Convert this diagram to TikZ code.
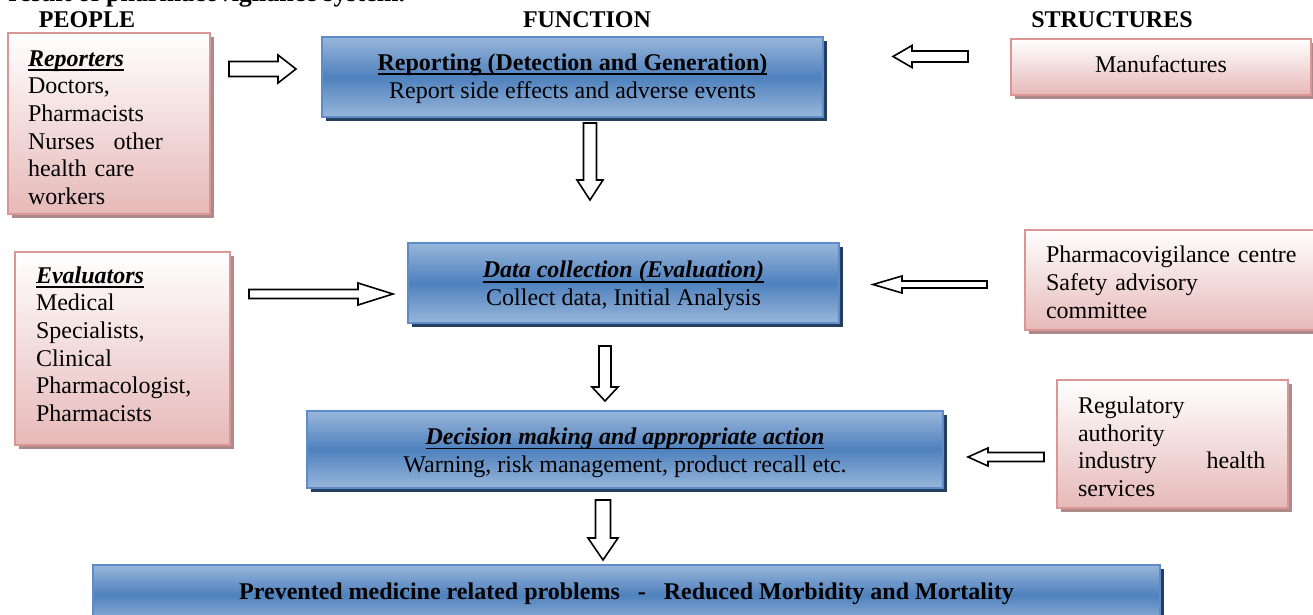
\documentclass[tikz,border=0pt]{standalone}
\usepackage{fontspec}
\setmainfont{Liberation Serif}
\usetikzlibrary{shadows}

\newcommand{\undl}[1]{\setbox0\hbox{#1}\rlap{\vrule height -1.4pt depth 2.3pt width \wd0}\box0}

\definecolor{pinkline}{RGB}{217,150,148}
\definecolor{pinkfill}{RGB}{230,185,184}
\definecolor{pinkshade}{RGB}{172,138,138}
\definecolor{blueline}{RGB}{95,140,200}
\definecolor{bluemid}{RGB}{79,129,189}
\definecolor{bluelight}{RGB}{152,182,219}
\definecolor{blueshade}{RGB}{36,63,96}

\tikzset{
  pinkbox/.style={draw=pinkline, line width=1pt, top color=white, bottom color=pinkfill,
    general shadow={fill=pinkshade, shadow xshift=2pt, shadow yshift=-2pt},
    align=left, inner ysep=0pt},
  bluebox/.style={draw=blueline, line width=1pt, top color=bluelight, bottom color=bluelight,
    middle color=bluemid,
    general shadow={fill=blueshade, shadow xshift=2pt, shadow yshift=-2pt},
    align=center, inner sep=0pt},
  heading/.style={font=\fontsize{12}{13.8}\selectfont\bfseries, anchor=base, inner sep=0pt},
  arrowline/.style={draw=black, fill=white, line width=0.8pt, line join=miter},
  pics/hollow arrow/.style args={#1/#2/#3/#4}{code={
    \path[arrowline] (0,-#2) -- ({#1-#4},-#2) -- ({#1-#4},-#3) -- (#1,0)
      -- ({#1-#4},#3) -- ({#1-#4},#2) -- (0,#2) -- cycle;
  }},
}

\begin{document}
\begin{tikzpicture}[x=0.5pt, y=-0.5pt, font=\fontsize{12}{13.8}\selectfont]
\useasboundingbox (0,0) rectangle (1313,615);

% Headings
\node[heading, font=\fontsize{13}{15}\selectfont\bfseries, anchor=base west] (title) at (8,2)
  {result of pharmacovigilance system.};
\node[heading] (people) at (87,28) {PEOPLE};
\node[heading] (function) at (587,28) {FUNCTION};
\node[heading] (structures) at (1112,28) {STRUCTURES};

% People
\node[pinkbox, text width=81pt, inner xsep=10pt, minimum height=90.5pt] (reporters) at (109,123.5)
  {\rule{0pt}{12pt}\textbf{\textit{\undl{Reporters}}}\\Doctors,\\Pharmacists\\Nurses\hspace{9.5pt}other\\health care\\workers};
\node[pinkbox, text width=86.5pt, inner xsep=10.5pt, minimum height=96.5pt] (evaluators) at (122.5,348.5)
  {\textbf{\textit{\undl{Evaluators}}}\\Medical\\Specialists,\\Clinical\\Pharmacologist,\\Pharmacists\rule[-4.6pt]{0pt}{0pt}};

% Function
\node[bluebox, minimum width=250.5pt, minimum height=40pt] (reporting) at (572.5,77)
  {\rule{0pt}{9.8pt}\textbf{\undl{Reporting (Detection and Generation)}}\\Report side effects and adverse events};
\node[bluebox, minimum width=215.5pt, minimum height=40pt] (datacoll) at (623.5,283)
  {\rule{0pt}{11.3pt}\textbf{\textit{\undl{Data collection (Evaluation)}}}\\Collect data, Initial Analysis};
\node[bluebox, minimum width=318pt, minimum height=38.5pt] (decision) at (625,449.5)
  {\rule{0pt}{11.7pt}\textbf{\textit{\undl{Decision making and appropriate action}}}\\Warning, risk management, product recall etc.};
\node[bluebox, minimum width=533.5pt, minimum height=30pt] (outcome) at (626.5,595)
  {\textbf{Prevented medicine related problems \ \ - \ \ Reduced Morbidity and Mortality}\rule[-3.6pt]{0pt}{0pt}};

% Structures
\node[pinkbox, align=center, minimum width=150pt, minimum height=28pt,
  text height=8.3pt, text depth=3pt] (manuf) at (1161,67) {Manufactures};
\node[pinkbox, text width=124.5pt, inner xsep=10.5pt, minimum height=50pt] (pvcentre) at (1170.5,280)
  {\rule{0pt}{10.7pt}\mbox{Pharmacovigilance centre}\\Safety advisory\\committee};
\node[pinkbox, text width=94.5pt, inner xsep=10.5pt, minimum height=64pt] (regulatory) at (1172.5,444)
  {\rule{0pt}{11.2pt}Regulatory\\authority\\\mbox{industry\hspace{25pt}health}\\services};

% Block arrows
\pic at (229,69) {hollow arrow=67/7.5/14/18};
\pic[rotate=180] at (968,56.5) {hollow arrow=75/5.5/11/19};
\pic[rotate=-90] at (590,123) {hollow arrow=77/6.5/13/20};
\pic at (249,294) {hollow arrow=144/4.5/11/35};
\pic[rotate=180] at (987,284.5) {hollow arrow=114/3.5/8.5/29};
\pic[rotate=-90] at (605,346) {hollow arrow=55/6/13/14};
\pic[rotate=180] at (1044,457) {hollow arrow=76/4.5/9/20};
\pic[rotate=-90] at (603,500) {hollow arrow=60/7.5/15/22};
\end{tikzpicture}
\end{document}
